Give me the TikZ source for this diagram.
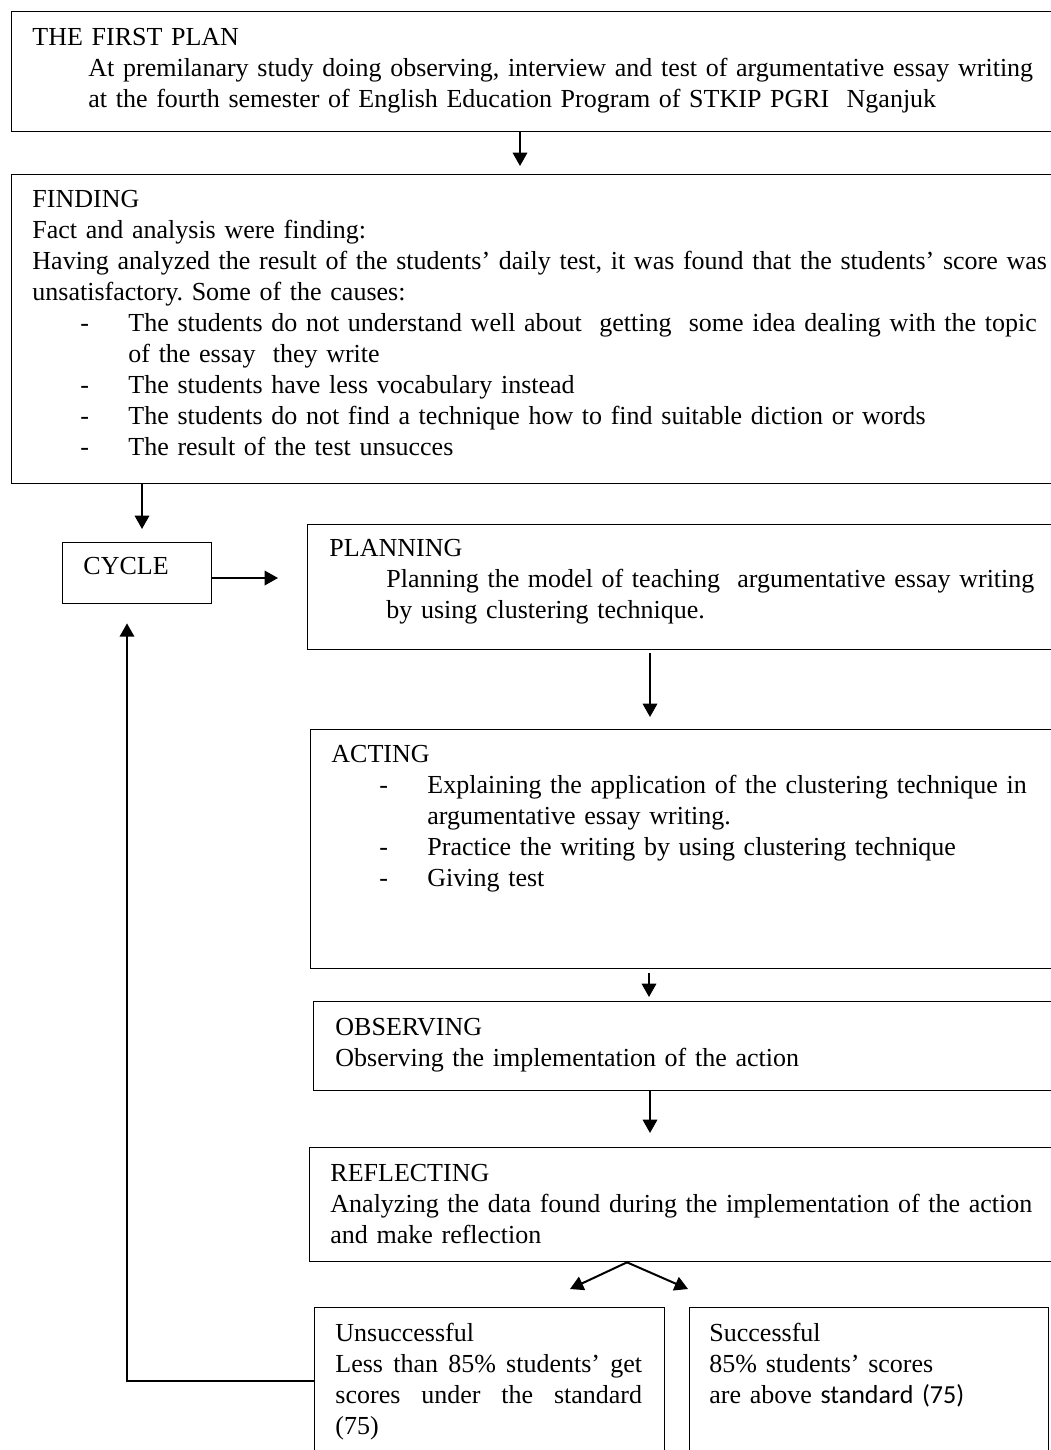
\documentclass[tikz,border=0pt]{standalone}
\usepackage{fontspec}
\setmainfont{Liberation Serif}
\newfontfamily\calibri{Carlito}
\usetikzlibrary{arrows.meta, calc}

\newlength{\unsw}\setlength{\unsw}{138pt}
\newcommand{\dashit}{\hspace*{21.6pt}\makebox[21.6pt][l]{-}}
\newcommand{\hangit}{\hspace*{43.2pt}}

\begin{document}
\frenchspacing
\begin{tikzpicture}[
  x=0.45pt, y=-0.45pt,
  box/.style={draw, line width=0.6pt, anchor=north west, inner sep=0pt},
  txt/.style={anchor=base west, inner sep=0pt, align=left, text width=#1,
              font=\fontsize{11.7}{13.95}\selectfont},
  arr/.style={-{Triangle[width=6.5pt,length=6pt]}, line width=0.9pt}
]
  \useasboundingbox (0,0) rectangle (1051,1450);
  \clip (0,0) rectangle (1051,1450);

  % boxes
  \node[box, minimum width=472pt, minimum height=54pt] (plan) at (11,11) {};
  \node[box, minimum width=472pt, minimum height=139.05pt] (finding) at (11,174) {};
  \node[box, minimum width=67.05pt, minimum height=27.45pt] (cycle) at (62,542) {};
  \node[box, minimum width=338.85pt, minimum height=56.25pt] (planning) at (307,524) {};
  \node[box, minimum width=337.5pt, minimum height=107.55pt] (acting) at (310,729) {};
  \node[box, minimum width=336.15pt, minimum height=40.05pt] (observing) at (313,1001) {};
  \node[box, minimum width=337.95pt, minimum height=51.3pt] (reflecting) at (309,1147) {};
  \node[box, minimum width=157.5pt, minimum height=72pt] (unsucc) at (314,1307) {};
  \node[box, minimum width=161.55pt, minimum height=72pt] (succ) at (689,1307) {};

  % texts
  \node[txt=540pt] (plantxt) at ([shift={(21,34)}]plan.north west)
    {THE FIRST PLAN\\
     \hspace*{25.2pt}At premilanary study doing observing, interview and test of argumentative essay writing\\
     \hspace*{25.2pt}at the fourth semester of English Education Program of STKIP PGRI~ Nganjuk};
  \node[txt=540pt] (findingtxt) at ([shift={(21,33)}]finding.north west)
    {FINDING\\
     Fact and analysis were finding:\\
     Having analyzed the result of the students’ daily test, it was found that the students’ score was\\
     unsatisfactory. Some of the causes:\\
     \dashit The students do not understand well about~ getting~ some idea dealing with the topic\\
     \hangit of the essay~ they write\\
     \dashit The students have less vocabulary instead\\
     \dashit The students do not find a technique how to find suitable diction or words\\
     \dashit The result of the test unsucces};
  \node[txt=60pt] (cycletxt) at ([shift={(21,32)}]cycle.north west) {CYCLE};
  \node[txt=400pt] (planningtxt) at ([shift={(22,32)}]planning.north west)
    {PLANNING\\
     \hspace*{25.65pt}Planning the model of teaching~ argumentative essay writing\\
     \hspace*{25.65pt}by using clustering technique.};
  \node[txt=400pt] (actingtxt) at ([shift={(21,33)}]acting.north west)
    {ACTING\\
     \dashit Explaining the application of the clustering technique in\\
     \hangit argumentative essay writing.\\
     \dashit Practice the writing by using clustering technique\\
     \dashit Giving test};
  \node[txt=400pt] (observingtxt) at ([shift={(22,34)}]observing.north west)
    {OBSERVING\\
     Observing the implementation of the action};
  \node[txt=400pt] (reflectingtxt) at ([shift={(21,34)}]reflecting.north west)
    {REFLECTING\\
     Analyzing the data found during the implementation of the action\\
     and make reflection};
  \node[txt=150pt] (unsucctxt) at ([shift={(21,34)}]unsucc.north west)
    {Unsuccessful\\
     \makebox[\unsw]{Less\hfill than\hfill 85\%\hfill students’\hfill get}\\
     \makebox[\unsw]{scores\hfill under\hfill the\hfill standard}\\
     (75)};
  \node[txt=155pt] (succtxt) at ([shift={(20,34)}]succ.north west)
    {Successful\\
     85\% students’ scores\\
     are above {\calibri standard (75)}};

  % connectors
  \draw[arr] ([shift={(509,0)}]plan.south west) -- ([shift={(509,-8)}]finding.north west);
  \draw[arr] ([shift={(131,0)}]finding.south west) -- ([shift={(80,-13)}]cycle.north west);
  \draw[arr] ([shift={(0,36)}]cycle.north east) -- ([shift={(-29,54)}]planning.north west);
  \draw[arr] ([shift={(343,3)}]planning.south west) -- ([shift={(340,-12)}]acting.north west);
  \draw[arr] ([shift={(339,4)}]acting.south west) -- ([shift={(336,-4)}]observing.north west);
  \draw[arr] ([shift={(337,0)}]observing.south west) -- ([shift={(341,-14)}]reflecting.north west);
  \draw[arr] ([shift={(318,0)}]reflecting.south west) -- ([shift={(256,-18)}]unsucc.north west);
  \draw[arr] ([shift={(318,0)}]reflecting.south west) -- ([shift={(-1,-18)}]succ.north west);
  \draw[arr] ([shift={(0,74)}]unsucc.north west) -| ([shift={(65,19)}]cycle.south west);
\end{tikzpicture}
\end{document}
